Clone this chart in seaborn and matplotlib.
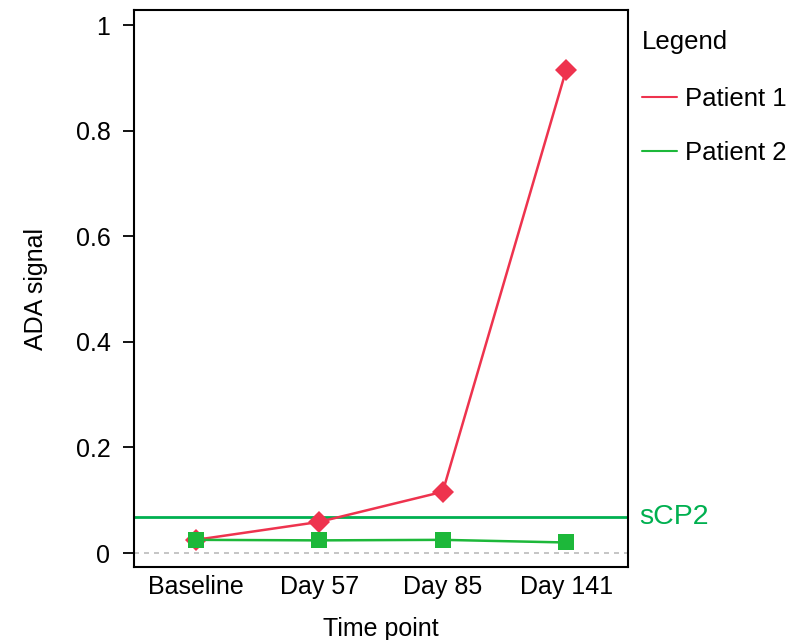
import matplotlib
matplotlib.use("Agg")
import matplotlib.pyplot as plt
from matplotlib.lines import Line2D
import seaborn as sns
import pandas as pd

timepoints = ["Baseline", "Day 57", "Day 85", "Day 141"]
patient1 = [0.025, 0.059, 0.116, 0.915]
patient2 = [0.025, 0.024, 0.025, 0.020]
scp2 = 0.068
yticks = [0, 0.2, 0.4, 0.6, 0.8, 1]
ytick_labels = ["0", "0.2", "0.4", "0.6", "0.8", "1"]

sns.set_theme(style="white")
plt.rcParams['font.family'] = ['Liberation Sans', 'DejaVu Sans']
plt.rcParams['text.color'] = 'black'

red = "#EE334E"
green = "#1DB83A"
line_green = "#00B050"

df = pd.DataFrame({
    "Time point": timepoints * 2,
    "x": list(range(len(timepoints))) * 2,
    "ADA signal": patient1 + patient2,
    "Patient": ["Patient 1"] * 4 + ["Patient 2"] * 4,
})

fig = plt.figure(figsize=(7.94, 6.4), dpi=100)
ax = fig.add_axes([0.1688, 0.114, 0.622, 0.870])

ax.axhline(0, color="#BBBBBB", linestyle=(0, (3, 3)), linewidth=1.2, zorder=1)
ax.axhline(scp2, color=line_green, linewidth=2, zorder=2)

sns.lineplot(data=df[df.Patient == "Patient 1"], x="x", y="ADA signal", color=red,
             marker="D", markersize=11, markeredgewidth=0, linewidth=1.8, ax=ax, zorder=3)
sns.lineplot(data=df[df.Patient == "Patient 2"], x="x", y="ADA signal", color=green,
             marker="s", markersize=11, markeredgewidth=0, linewidth=1.8, ax=ax, zorder=4)

fs = 18
ax.set_xlim(-0.5, 3.5)
ax.set_ylim(-0.0265, 1.028)
ax.set_xticks(range(len(timepoints)))
ax.set_xticklabels(timepoints, fontsize=fs)
ax.set_yticks(yticks)
ax.set_yticklabels(ytick_labels, fontsize=fs)
ax.tick_params(axis="y", direction="out", length=8, width=1.3, left=True, colors="black", pad=9)
ax.tick_params(axis="x", length=0, pad=6, colors="black")
ax.set_xlabel("Time point", fontsize=fs, labelpad=13, color="black")
ax.set_ylabel("ADA signal", fontsize=fs, labelpad=20, color="black")
for s in ax.spines.values():
    s.set_color("black")
    s.set_linewidth(1.5)

ax.text(1.022, scp2, "sCP2", transform=ax.get_yaxis_transform(), color=line_green,
        fontsize=20.5, va="center", ha="left", clip_on=False)

lfs = 18.5
handles = [Line2D([0], [0], color=red, linewidth=1.5),
           Line2D([0], [0], color=green, linewidth=1.5)]
leg = ax.legend(handles, ["Patient 1", "Patient 2"], title="Legend", loc="upper left",
                bbox_to_anchor=(1.0, 0.99), frameon=False, fontsize=lfs, title_fontsize=lfs,
                handlelength=1.36, labelspacing=1.15, handletextpad=0.31, borderaxespad=0.15)
leg._legend_box.align = "left"
leg._legend_box.sep = 24

for t in leg.get_texts():
    t.set_color("black")
leg.get_title().set_color("black")

fig.savefig("out.png", dpi=100)
